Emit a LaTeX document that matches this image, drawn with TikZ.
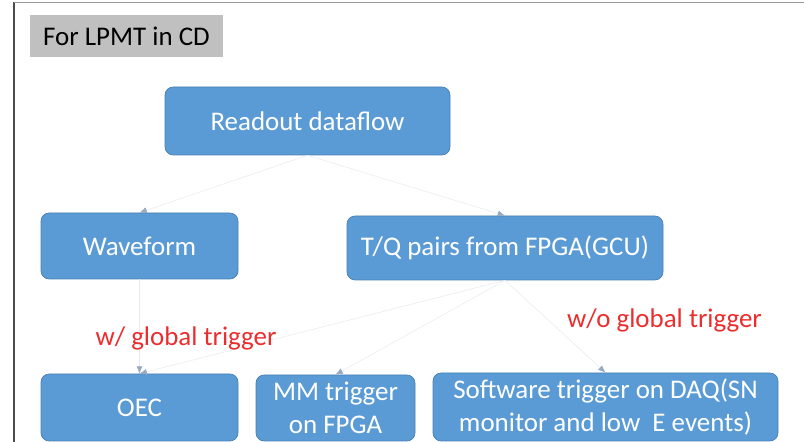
\documentclass[tikz,border=0pt]{standalone}
\usepackage{fontspec}
\setmainfont{Carlito}
\usetikzlibrary{arrows.meta}
\definecolor{boxblue}{RGB}{91,155,213}
\definecolor{boxedge}{RGB}{72,128,180}
\definecolor{titlegray}{RGB}{192,192,192}
\definecolor{linkgray}{RGB}{232,235,240}
\definecolor{tipgray}{RGB}{150,170,195}
\definecolor{condred}{RGB}{235,45,45}
\tikzset{
  box/.style={draw=boxedge,line width=0.6pt,fill=boxblue,rounded corners=7pt,
              text=white,align=center,inner sep=2pt,font=\fontsize{23}{28}\selectfont},
  flow/.style={-{Latex[length=2.2mm,width=1.8mm,color=tipgray]},draw=linkgray,line width=0.5pt},
  cond/.style={text=condred,font=\fontsize{23}{28}\selectfont},
  tag/.style={fill=titlegray,inner sep=0pt,font=\fontsize{23}{28}\selectfont},
}
\begin{document}
\begin{tikzpicture}[x=1cm,y=1cm]
  \path[use as bounding box] (0,0) rectangle (24.12,13.26);
  % slide frame
  \draw[black!70,line width=1.5pt] (0.42,0) -- (0.42,13.2);
  \draw[black!40,line width=0.8pt] (0.42,13.2) -- (24.12,13.2);

  \node[tag,minimum width=5.79cm,minimum height=1.26cm] (title) at (3.795,12.18) {For LPMT in CD};

  \node[box,minimum width=8.55cm,minimum height=2.04cm] (readout) at (9.225,9.63) {Readout dataflow};
  \node[box,minimum width=5.91cm,minimum height=1.98cm] (waveform) at (4.185,5.88) {Waveform};
  \node[box,minimum width=9.48cm,minimum height=1.92cm] (tq) at (15.15,5.82) {T/Q pairs from FPGA(GCU)};

  \node[box,minimum width=5.91cm,minimum height=2.01cm] (oec) at (4.185,1.035) {OEC};
  \node[box,minimum width=4.77cm,minimum height=1.98cm] (mm) at (10.065,1.02) {MM trigger\\on FPGA};
  \node[box,minimum width=10.35cm,minimum height=2.04cm] (sw) at (18.165,1.05)
    {Software trigger on DAQ(SN\\monitor and low\ \ E events)};

  \draw[flow] (readout.south) -- (waveform.north);
  \draw[flow] (readout.south) -- (tq.north);
  \draw[flow] (waveform.south) -- (oec.north);
  \draw[flow] (tq.south) -- (oec.north);
  \draw[flow] (tq.south) -- (mm.north);
  \draw[flow] (tq.south) -- (sw.north);

  \node[cond] (with) at (5.58,3.12) {w/ global trigger};
  \node[cond] (without) at (19.935,3.66) {w/o global trigger};
\end{tikzpicture}
\end{document}
